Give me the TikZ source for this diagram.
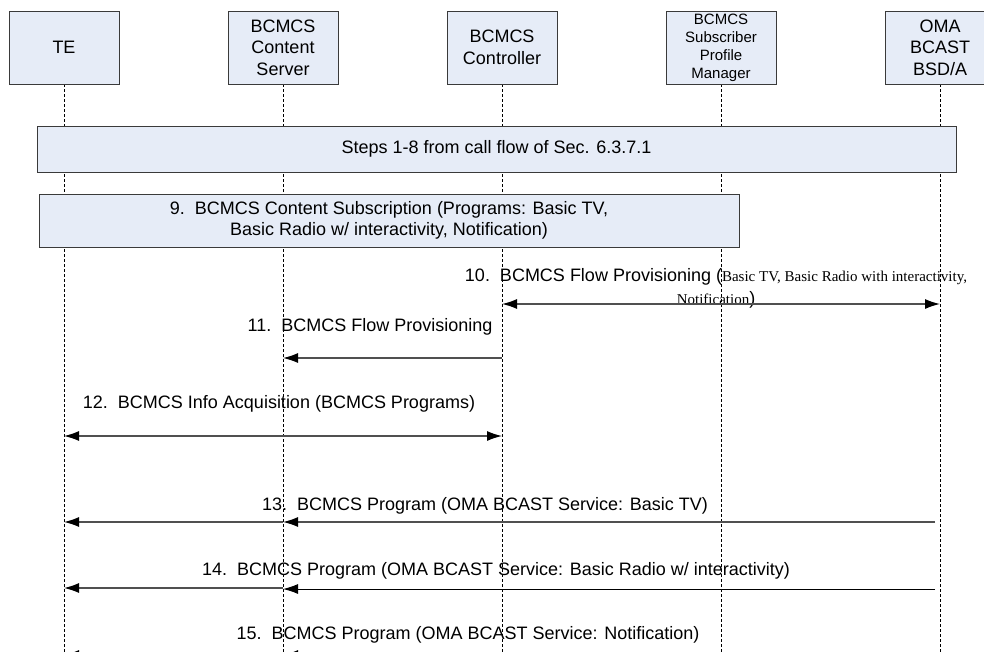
\documentclass[tikz,border=0pt]{standalone}
\usepackage{fontspec}
\setmainfont{Liberation Sans}
\newfontfamily\timesfont{Liberation Serif}
\usetikzlibrary{arrows.meta}
\definecolor{boxfill}{HTML}{E6ECF7}
\definecolor{boxline}{HTML}{3A3A3A}
\definecolor{msgline}{HTML}{505050}
\newcommand{\tms}{\timesfont\fontsize{15}{18}\selectfont}
\tikzset{entity/.style = {draw = boxline, fill = boxfill, line width = 1pt,
                          minimum width = 110pt, minimum height = 73pt,
                          align = center, inner sep = 0pt,
                          font = \fontsize{18}{21.5}\selectfont}}
\tikzset{bar/.style = {entity, minimum width = 0pt, minimum height = 0pt}}
\tikzset{life/.style = {draw = black, line width = 0.6pt, dash pattern = on 3pt off 2pt}}
\tikzset{tip/.tip = {Latex[length = 15pt, width = 10pt, black]}}
\tikzset{msg/.style = {draw = msgline, line width = 1.3pt, -tip}}
\tikzset{both/.style = {msg, tip-tip}}
\tikzset{lbl/.style = {inner sep = 0pt, anchor = base, align = center, font = \fontsize{18}{23}\selectfont}}

\begin{document}
\begin{tikzpicture}[x = 1pt, y = -1pt]
    \path [use as bounding box, clip] (0, 0) rectangle (984, 651);
    \fill [white] (0, 0) rectangle (984, 651);

    % lifelines first, boxes cover them
    \coordinate (bottom) at (0, 660);
    \foreach \x/\n in {64/te, 283/cs, 502/ctrl, 721/spm, 940/bsd} {
        \coordinate (top-\n) at (\x, 84);
        \draw [life] (top-\n) -- (top-\n |- bottom);
    }

    \node [entity] (te) at (64, 47.5) {TE};
    \node [entity] (cs) at (283, 47.5) {BCMCS\\Content\\Server};
    \node [entity] (ctrl) at (502, 47.5) {BCMCS\\Controller};
    \node [entity, font = \fontsize{15}{18}\selectfont] (spm) at (721, 47.5) {BCMCS\\Subscriber\\Profile\\Manager};
    \node [entity] (bsd) at (940, 47.5) {OMA\\BCAST\\BSD/A};

    \node [bar, minimum width = 919pt, minimum height = 46pt] (steps) at (496.5, 149) {Steps 1-8 from call flow of Sec. 6.3.7.1};
    \node [bar, minimum width = 700pt, minimum height = 53pt, font = \fontsize{18}{21}\selectfont] (subscr) at (389, 220.5)
        {9.\ \ BCMCS Content Subscription (Programs: Basic TV,\\Basic Radio w/ interactivity, Notification)};

    % messages
    \coordinate (y10) at (0, 304);
    \coordinate (y11) at (0, 358);
    \coordinate (y12) at (0, 436);
    \coordinate (y13) at (0, 522);
    \coordinate (y14) at (0, 588);
    \coordinate (y15) at (0, 655);

    \node [lbl, anchor = center] (l10) at (716, 288)
        {10.\ \ BCMCS Flow Provisioning ({\tms Basic TV, Basic Radio with interactivity,}\\{\tms Notification})};
    \draw [both] (top-ctrl |- y10) -- (top-bsd |- y10);

    \node [lbl] (l11) at (370, 331.5) {11.\ \ BCMCS Flow Provisioning};
    \draw [msg] (top-ctrl |- y11) -- (top-cs |- y11);

    \node [lbl] (l12) at (279, 408.5) {12.\ \ BCMCS Info Acquisition (BCMCS Programs)};
    \draw [both] (top-te |- y12) -- (top-ctrl |- y12);

    \node [lbl] (l13) at (485, 510.5) {13.\ \ BCMCS Program (OMA BCAST Service: Basic TV)};
    \draw [msg] ([xshift = -5pt] top-bsd |- y13) -- (top-cs |- y13);
    \draw [msg] (top-cs |- y13) -- (top-te |- y13);

    \node [lbl] (l14) at (496, 575.5) {14.\ \ BCMCS Program (OMA BCAST Service: Basic Radio w/ interactivity)};
    \draw [msg, draw = black, line width = 1pt] ([xshift = -5pt, yshift = -1pt] top-bsd |- y14) -- ([yshift = -1pt] top-cs |- y14);
    \draw [msg] (top-cs |- y14) -- (top-te |- y14);

    \node [lbl] (l15) at (468, 639.5) {15.\ \ BCMCS Program (OMA BCAST Service: Notification)};
    \draw [msg] ([xshift = -5pt] top-bsd |- y15) -- (top-cs |- y15);
    \draw [msg] (top-cs |- y15) -- (top-te |- y15);
\end{tikzpicture}
\end{document}
